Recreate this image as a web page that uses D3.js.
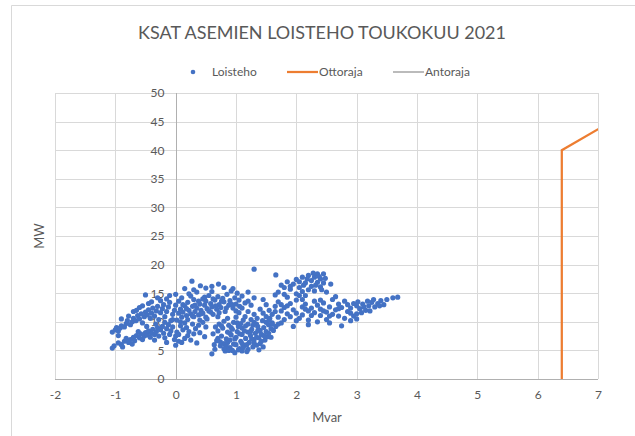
<!DOCTYPE html>
<html>
<head>
<meta charset="utf-8">
<script src="https://cdn.jsdelivr.net/npm/d3@7"></script>
<style>
  body { margin: 0; background: #fff; }
  svg { display: block; font-family: Lato, "Open Sans", sans-serif; }
</style>
</head>
<body>
<svg width="635" height="436"></svg>
<script>
// Loisteho: [Mvar, MW] pairs
const loisteho = [
  [-1.05,5.4],[-1.02,5.8],[-0.95,6.3],[-0.9,6.0],[-0.85,6.6],[-0.82,7.1],[-0.78,6.4],[-0.75,6.9],[-0.7,7.3],[-0.68,6.7],
  [-0.65,7.6],[-0.6,7.2],[-0.58,7.9],[-0.55,6.9],[-0.52,7.5],[-0.5,8.1],[-0.47,7.7],[-0.45,8.4],[-0.42,7.3],[-0.4,8.0],
  [-0.38,8.7],[-0.35,7.8],[-0.32,8.3],[-0.3,9.0],[-0.28,7.5],[-0.25,8.6],[-0.22,9.2],[-0.2,8.0],[-0.18,7.2],[-0.15,8.8],
  [-0.12,9.5],[-0.1,7.8],[-0.08,8.4],[-0.05,9.1],[-0.02,6.9],[0.0,7.5],[0.02,8.2],[0.05,6.6],[-0.88,5.6],[-0.72,6.1],
  [-1.05,8.2],[-1.0,8.6],[-0.98,9.0],[-0.95,8.4],[-0.92,8.9],[-0.9,9.3],[-0.85,9.1],[-0.82,9.7],[-0.8,10.2],[-0.75,9.5],
  [-0.72,10.0],[-0.7,10.6],[-0.66,10.2],[-0.63,11.1],[-0.6,10.5],[-0.57,11.4],[-0.55,9.8],[-0.52,10.9],[-0.5,11.7],[-0.47,11.2],
  [-0.45,12.1],[-0.42,10.6],[-0.4,11.5],[-0.38,12.4],[-0.35,11.0],[-0.32,11.9],[-0.3,12.7],[-0.28,10.4],[-0.25,11.6],[-0.22,12.3],
  [-0.2,13.0],[-0.18,10.9],[-0.15,11.8],[-0.12,12.6],[-0.1,13.4],[-0.08,10.2],[-0.05,11.3],[-0.02,12.0],[0.0,12.9],[-0.5,14.7],
  [-0.3,14.2],[-0.15,14.0],[-0.6,12.5],[-0.7,11.8],[-0.4,13.5],
  [-0.95,7.6],[-0.62,8.3],[-0.48,9.2],[-0.33,9.6],[-0.18,9.9],[-0.05,10.4],[-0.9,10.5],[-0.78,11.0],[-0.65,12.0],[-0.55,12.8],
  [-0.45,13.2],[-0.25,13.7],[-0.1,14.6],[0.0,14.8],[-0.35,6.8],[-0.15,6.4],[0.0,5.9],
  [0.02,10.3],[0.05,11.5],[0.05,13.6],[0.08,12.2],[0.1,10.8],[0.1,14.2],[0.12,11.7],[0.15,12.8],[0.15,9.8],[0.18,11.1],
  [0.2,13.4],[0.2,10.4],[0.22,12.0],[0.25,11.4],[0.25,14.5],[0.28,12.7],[0.3,10.9],[0.3,13.9],[0.32,11.8],[0.35,12.4],
  [0.35,15.2],[0.38,11.2],[0.4,13.1],[0.4,10.3],[0.42,12.0],[0.45,14.0],[0.45,11.5],[0.48,12.9],[0.5,13.6],[0.5,10.8],
  [0.52,12.3],[0.55,14.6],[0.55,11.9],[0.58,13.2],[0.6,12.6],[0.6,15.3],[0.62,11.3],[0.65,13.8],[0.68,12.2],[0.7,14.4],
  [0.7,10.9],[0.72,13.0],[0.75,12.5],[0.78,14.1],[0.8,13.5],[0.82,11.8],[0.85,14.8],[0.88,12.9],[0.9,13.7],[0.92,15.4],
  [0.95,12.4],[0.98,14.2],[1.0,13.1],[1.02,15.0],[1.05,13.8],[1.1,14.5],[1.15,13.3],[1.2,15.2],[0.27,17.1],[0.41,16.3],
  [0.71,16.6],[0.15,15.8],[0.5,15.9],[0.8,16.0],[1.3,19.2],
  [0.08,10.0],[0.12,13.0],[0.18,12.3],[0.22,14.9],[0.28,11.0],[0.32,12.9],[0.38,13.6],[0.42,11.4],[0.48,14.3],[0.52,10.5],
  [0.58,11.7],[0.62,14.0],[0.66,12.8],[0.72,11.6],[0.76,13.6],[0.84,12.4],[0.86,10.6],[0.94,13.0],[1.0,11.9],[1.06,12.7],
  [0.3,15.6],[0.6,16.2],[0.95,15.8],
  [0.05,7.8],[0.08,9.3],[0.1,6.4],[0.12,8.6],[0.15,7.1],[0.18,9.0],[0.2,7.6],[0.22,8.3],[0.25,6.8],[0.28,9.6],
  [0.3,7.9],[0.33,8.8],[0.35,6.3],[0.38,9.4],[0.4,8.1],[0.45,9.9],[0.48,7.4],[0.5,9.1],
  [0.6,4.4],[0.65,5.2],[0.68,6.7],[0.7,8.4],[0.72,9.6],[0.74,5.8],[0.76,7.5],[0.78,8.9],[0.8,6.2],[0.8,10.1],
  [0.82,4.9],[0.84,7.0],[0.86,8.2],[0.88,9.4],[0.9,5.5],[0.9,6.8],[0.92,7.7],[0.94,8.7],[0.96,9.9],[0.98,4.6],
  [1.0,6.0],[1.0,7.3],[1.02,8.3],[1.04,9.2],[1.06,5.3],[1.08,6.6],[1.1,7.8],[1.1,8.9],[1.12,10.3],[1.14,5.9],
  [1.16,7.1],[1.18,4.8],[1.2,8.2],[1.2,9.6],[1.22,6.4],[1.24,7.6],[1.26,8.7],[1.28,5.6],[1.3,9.9],[1.3,6.9],
  [1.32,8.0],[1.34,7.3],[1.36,9.2],[1.38,5.1],[1.4,8.5],[1.4,6.2],[1.42,7.8],[1.44,10.2],[1.46,9.0],[1.48,6.8],
  [1.5,8.3],[1.52,7.4],[1.54,9.5],[1.56,10.6],[1.58,8.8],[1.6,9.8],[0.62,7.9],[0.66,9.1],[0.74,6.5],[0.84,5.7],
  [0.92,9.0],[0.96,6.1],[1.04,5.1],[1.08,9.7],[1.14,8.4],[1.18,6.0],[1.26,7.0],[1.34,5.9],[1.36,8.4],
  [0.64,6.0],[0.7,7.1],[0.76,9.3],[0.8,5.3],[0.86,6.4],[0.9,8.0],[0.94,5.0],[0.98,7.0],[1.02,9.8],[1.06,7.9],
  [1.1,6.2],[1.12,5.5],[1.16,9.3],[1.2,5.2],[1.24,8.3],[1.28,9.4],[1.3,6.3],[1.34,9.6],[1.38,7.2],[1.42,6.6],
  [1.46,7.6],[1.5,9.9],[1.54,8.0],[1.58,7.3],[1.62,8.5],[1.66,9.2],[1.7,9.6],[1.45,5.6],[1.1,4.9],[0.88,5.0],
  [1.0,10.8],[1.05,11.6],[1.1,12.4],[1.15,10.9],[1.2,11.8],[1.25,12.9],[1.3,11.3],[1.35,10.6],[1.4,12.2],[1.45,11.5],
  [1.5,13.0],[1.5,10.9],[1.55,12.0],[1.6,11.3],[1.65,12.7],[1.7,10.8],[1.7,13.5],[1.75,11.9],[1.8,12.5],[1.8,10.4],
  [1.85,11.4],[1.9,13.2],[1.9,10.9],[1.95,12.1],[2.0,11.5],[2.0,13.8],[2.05,10.6],[2.1,12.6],[2.1,11.2],[2.15,13.1],
  [2.2,11.9],[2.2,10.3],[2.25,12.4],[2.3,11.6],[2.3,13.6],[2.35,12.9],[2.4,11.1],[2.4,12.2],[2.45,13.3],[2.5,11.7],
  [2.5,10.4],[2.55,12.6],[2.6,11.3],[2.6,13.9],[2.65,12.1],[2.7,11.0],[2.7,13.1],[2.75,9.3],[2.75,12.5],[2.8,10.6],
  [2.8,13.6],[2.85,11.8],[2.9,12.4],[2.9,10.2],[2.95,13.2],[3.0,11.4],[3.0,12.8],[1.6,9.6],[1.75,9.8],[1.85,14.3],
  [2.05,14.6],[2.2,9.5],[2.35,10.0],[2.55,9.8],[2.65,14.4],[2.95,11.0],[1.65,14.7],[1.45,13.9],[1.3,14.2],[1.2,13.6],
  [1.95,9.2],
  [1.25,10.4],[1.55,10.3],[1.65,11.8],[1.85,12.8],[2.0,10.2],[2.15,12.2],[2.25,11.1],[2.45,11.9],[2.55,11.0],[2.7,12.3],
  [2.85,13.0],[2.9,11.5],[3.0,10.5],[2.4,13.8],[2.1,13.9],[1.75,13.0],
  [3.05,12.3],[3.1,13.1],[3.15,12.0],[3.2,12.8],[3.25,13.4],[3.3,12.6],[3.35,13.2],[3.4,13.7],[3.45,13.0],[3.5,13.9],
  [3.6,14.2],[3.68,14.3],[3.08,11.6],[3.18,13.6],[3.28,13.9],[3.12,12.6],[3.22,11.9],[3.38,12.8],[3.02,13.5],
  [1.66,18.2],[1.7,15.2],[1.75,16.4],[1.8,14.8],[1.85,17.0],[1.9,15.7],[1.95,16.6],[2.0,14.9],[2.0,17.4],[2.05,16.0],
  [2.1,15.3],[2.1,17.8],[2.15,16.8],[2.2,15.6],[2.2,18.1],[2.25,17.2],[2.25,16.2],[2.3,17.8],[2.3,15.4],[2.35,16.9],
  [2.35,18.4],[2.4,17.5],[2.4,16.1],[2.45,18.4],[2.45,16.8],[2.5,15.2],[2.57,16.6],[2.15,14.6],[2.28,18.5],[1.9,16.2],
  [2.38,17.9],[2.12,16.4],[2.05,17.0],[2.18,17.5],[2.32,16.4],[2.42,15.6],[2.48,17.6],[1.8,16.0]
];
const ottoraja = [[6.4, 0], [6.4, 40], [7.2, 44.9]];
const antoraja = [[-6.4, 0], [-6.4, 40], [-7.2, 44.9]];
const xTicks = [-2, -1, 0, 1, 2, 3, 4, 5, 6, 7];
const yTicks = [0, 5, 10, 15, 20, 25, 30, 35, 40, 45, 50];
const seriesNames = ['Loisteho', 'Ottoraja', 'Antoraja'];

const svg = d3.select('svg');
const grey = '#595959';
const margin = { left: 55, right: 598, top: 93, bottom: 379 };

const x = d3.scaleLinear().domain([-2, 7]).range([margin.left, margin.right]);
const y = d3.scaleLinear().domain([0, 50]).range([margin.bottom, margin.top]);

// chart border
svg.append('path')
  .attr('d', 'M11.5,436 V5.5 H635')
  .attr('fill', 'none')
  .attr('stroke', '#d9d9d9')
  .attr('stroke-width', 1);

// title
const title = svg.append('text')
  .attr('x', 322)
  .attr('y', 39)
  .attr('text-anchor', 'middle')
  .attr('fill', grey)
  .style('font-size', '17px')
  .text('KSAT ASEMIEN LOISTEHO TOUKOKUU 2021');
const tw = title.node().getComputedTextLength();
title.style('font-size', (17 * 368 / tw) + 'px');

// gridlines
svg.append('g')
  .selectAll('line')
  .data(yTicks)
  .enter()
  .append('line')
  .attr('x1', margin.left)
  .attr('x2', margin.right)
  .attr('y1', (d) => Math.round(y(d)) + 0.5)
  .attr('y2', (d) => Math.round(y(d)) + 0.5)
  .attr('stroke', '#d9d9d9');

svg.append('g')
  .selectAll('line')
  .data(xTicks)
  .enter()
  .append('line')
  .attr('x1', (d) => Math.round(x(d)) + 0.5)
  .attr('x2', (d) => Math.round(x(d)) + 0.5)
  .attr('y1', margin.top)
  .attr('y2', margin.bottom)
  .attr('stroke', '#d9d9d9');

// axes: horizontal at y=0, vertical at x=0
const xAxis = svg.append('g')
  .attr('transform', `translate(0,${Math.round(y(0)) + 0.5})`)
  .call(d3.axisBottom(x).tickValues(xTicks).tickFormat((d) => String(d)).tickSize(0).tickPadding(11));
const yAxis = svg.append('g')
  .attr('transform', `translate(${Math.round(x(0)) + 0.5},0)`)
  .call(d3.axisLeft(y).tickValues(yTicks).tickFormat((d) => String(d)).tickSize(0).tickPadding(12));

[xAxis, yAxis].forEach((a) => {
  a.select('.domain').attr('stroke', '#b0b0b0');
  a.selectAll('text').attr('fill', grey).style('font-size', '12px').style('font-family', 'Lato, "Open Sans", sans-serif');
});
xAxis.select('.domain').attr('d', `M${margin.left},0H${margin.right}`);
yAxis.select('.domain').attr('d', `M0,${margin.top}V${margin.bottom}`);

// axis titles
svg.append('text')
  .attr('x', 327)
  .attr('y', 422)
  .attr('text-anchor', 'middle')
  .attr('fill', grey)
  .style('font-size', '13px')
  .text('Mvar');
svg.append('text')
  .attr('transform', 'translate(44,236) rotate(-90)')
  .attr('text-anchor', 'middle')
  .attr('fill', grey)
  .style('font-size', '13px')
  .text('MW');

// clip for lines
svg.append('clipPath')
  .attr('id', 'plot')
  .append('rect')
  .attr('x', margin.left)
  .attr('y', margin.top - 2)
  .attr('width', margin.right - margin.left)
  .attr('height', margin.bottom - margin.top + 2);

const line = d3.line().x((d) => x(d[0])).y((d) => y(d[1]));

svg.append('path')
  .datum(antoraja)
  .attr('clip-path', 'url(#plot)')
  .attr('fill', 'none')
  .attr('stroke', '#a5a5a5')
  .attr('stroke-width', 2)
  .attr('d', line);

svg.append('path')
  .datum(ottoraja)
  .attr('clip-path', 'url(#plot)')
  .attr('fill', 'none')
  .attr('stroke', '#ED7D31')
  .attr('stroke-width', 2.25)
  .attr('d', line);

// scatter
svg.append('g')
  .selectAll('circle')
  .data(loisteho)
  .enter()
  .append('circle')
  .attr('cx', (d) => x(d[0]))
  .attr('cy', (d) => y(d[1]))
  .attr('r', 2.6)
  .attr('fill', '#4472C4');

// legend
const legend = svg.append('g').style('font-size', '12px').attr('fill', grey);
legend.append('circle').attr('cx', 193).attr('cy', 72).attr('r', 2.3).attr('fill', '#4472C4');
legend.append('text').attr('x', 212).attr('y', 76).text(seriesNames[0]);
legend.append('line').attr('x1', 287).attr('x2', 318).attr('y1', 72).attr('y2', 72)
  .attr('stroke', '#ED7D31').attr('stroke-width', 2.25);
legend.append('text').attr('x', 319).attr('y', 76).text(seriesNames[1]);
legend.append('line').attr('x1', 393).attr('x2', 424).attr('y1', 72).attr('y2', 72)
  .attr('stroke', '#a5a5a5').attr('stroke-width', 1.5);
legend.append('text').attr('x', 425).attr('y', 76).text(seriesNames[2]);
</script>
</body>
</html>
